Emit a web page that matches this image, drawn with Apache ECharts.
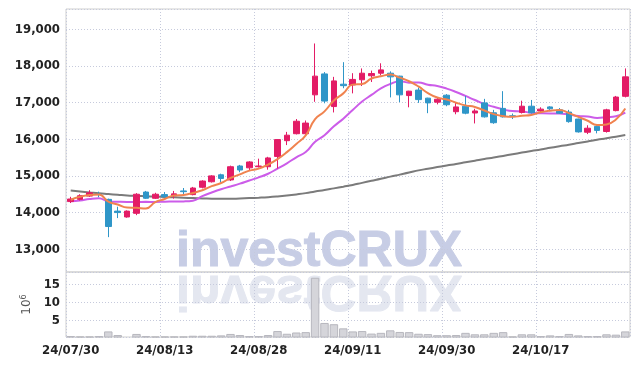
<!DOCTYPE html>
<html>
<head>
<meta charset="utf-8">
<script src="https://cdn.jsdelivr.net/npm/echarts@6/dist/echarts.min.js"></script>
<style>html,body{margin:0;padding:0;background:#fff}#c{width:639px;height:366px}</style>
</head>
<body>
<div id="c"></div>
<script>
const dates = ['24/07/30','24/07/31','24/08/01','24/08/02','24/08/05','24/08/06','24/08/07','24/08/08','24/08/09','24/08/12',
'24/08/13','24/08/14','24/08/16','24/08/19','24/08/20','24/08/21','24/08/22','24/08/23','24/08/26','24/08/27',
'24/08/28','24/08/29','24/08/30','24/09/02','24/09/03','24/09/04','24/09/05','24/09/06','24/09/09','24/09/10',
'24/09/11','24/09/12','24/09/13','24/09/19','24/09/20','24/09/23','24/09/24','24/09/25','24/09/26','24/09/27',
'24/09/30','24/10/02','24/10/04','24/10/07','24/10/08','24/10/10','24/10/11','24/10/14','24/10/15','24/10/16',
'24/10/17','24/10/18','24/10/21','24/10/22','24/10/23','24/10/24','24/10/25','24/10/28','24/10/29','24/10/30'];

const openP  = [14300,14360,14450,14500,14360,14040,13880,13980,14560,14390,
14490,14460,14590,14490,14690,14840,15030,14890,15270,15220,
15250,15250,15530,15960,16150,16150,17210,17780,16890,17500,
17480,17620,17730,17800,17800,17720,17190,17340,17120,17010,
17200,16750,16900,16715,16990,16720,16840,16640,16730,16900,
16770,16880,16800,16740,16550,16190,16350,16210,16780,17170];
const closeP = [14370,14460,14540,14490,13620,14000,14040,14500,14390,14500,
14430,14510,14570,14670,14860,15000,14930,15250,15160,15380,
15270,15490,15990,16110,16490,16440,17720,17040,17590,17460,
17630,17800,17790,17890,17700,17210,17310,17080,16990,17090,
16940,16880,16710,16770,16610,16450,16610,16615,16900,16720,
16820,16830,16710,16480,16200,16300,16240,16800,17150,17700];
const lowP   = [14260,14330,14430,14420,13330,13850,13860,13930,14370,14370,
14370,14380,14490,14470,14660,14820,14820,14860,15100,15130,
15230,15170,15200,15840,16130,16100,17020,16980,16730,17390,
17250,17450,17560,17740,17140,17010,16870,16990,16710,16950,
16900,16680,16680,16430,16590,16420,16590,16550,16700,16700,
16720,16760,16690,16450,16180,16140,16160,16180,16760,17140];
const highP  = [14430,14500,14610,14570,14380,14160,14060,14530,14590,14540,
14560,14590,14670,14700,14880,15020,15060,15280,15300,15400,
15470,15520,16000,16200,16550,16510,18610,17830,17700,18100,
17800,17930,17870,18070,17850,17730,17320,17410,17130,17150,
17230,17000,17180,16830,17100,16800,17310,16700,17050,17070,
16870,16900,16850,16800,16560,16380,16380,16830,17180,17930];

const ma5  = [14350,14430,14480,14490,14296,14222,14138,14130,14110,14286,
14372,14466,14480,14536,14608,14722,14806,14942,15040,15144,
15198,15310,15458,15648,15870,16104,16550,16760,17056,17250,
17488,17504,17654,17714,17762,17678,17580,17438,17258,17136,
17082,16996,16922,16878,16782,16684,16630,16611,16637,16659,
16733,16777,16796,16712,16608,16504,16386,16404,16538,16838];
const ma10 = [14308,14330,14370,14390,14305,14295,14290,14290,14292,14291,
14297,14302,14305,14323,14447,14547,14636,14711,14788,14876,
14960,15058,15200,15344,15507,15651,15930,16109,16352,16560,
16796,17027,17207,17385,17506,17583,17542,17546,17486,17449,
17380,17288,17180,17068,16959,16883,16813,16766,16757,16720,
16708,16703,16703,16674,16633,16618,16581,16600,16625,16723];
const ma60 = [14600,14575,14550,14525,14505,14485,14465,14455,14445,14435,
14425,14415,14405,14395,14385,14378,14374,14375,14385,14395,
14406,14420,14440,14465,14495,14530,14575,14615,14660,14705,
14752,14810,14865,14920,14980,15035,15090,15150,15195,15240,
15285,15325,15370,15415,15460,15500,15545,15590,15635,15680,
15720,15765,15810,15850,15895,15940,15985,16025,16070,16115];

const volume = [0.7,0.6,0.6,0.7,2.0,1.0,0.5,1.3,0.7,0.6,
0.6,0.6,0.6,0.8,0.8,0.8,0.9,1.3,1.0,0.7,
0.7,1.0,2.1,1.35,1.7,1.8,16.9,4.35,4.0,2.85,
2.0,2.1,1.4,1.6,2.3,1.85,1.8,1.35,1.25,0.95,
0.95,1.0,1.6,1.2,1.2,1.6,1.8,0.6,1.2,1.2,
0.7,0.9,0.7,1.3,0.9,0.7,0.7,1.2,1.1,2.0];

const candleData = dates.map((d, i) => [openP[i], closeP[i], lowP[i], highP[i]]);

const UP = '#e31c66', DOWN = '#2f96c8';
const gridLine = { show: true, lineStyle: { color: '#c6cadc', width: 1, type: [1, 2] } };
const labelFont = { fontFamily: '"DejaVu Sans Condensed", "Liberation Sans Narrow", "Roboto Condensed", sans-serif', fontWeight: 'bold', color: '#222' };

const chart = echarts.init(document.getElementById('c'), null, { renderer: 'canvas' });
chart.setOption({
  animation: false,
  backgroundColor: '#fff',
  graphic: [
    { type: 'text', x: 176, y: 271, z: -10, silent: true,
      style: { text: 'investCRUX', x: 0, y: -19, verticalAlign: 'middle', font: 'bold 50px "Liberation Sans"', fill: '#c7cde5', stroke: '#c7cde5', lineWidth: 1 } },
    { type: 'text', x: 176, y: 271, scaleY: -1, z: -10, silent: true,
      style: { text: 'investCRUX', x: 0, y: -19, verticalAlign: 'middle', font: 'bold 50px "Liberation Sans"', fill: '#e4e7f0', stroke: '#e4e7f0', lineWidth: 1 } }
  ],
  grid: [
    { left: 66, right: 9, top: 9, height: 263, show: true, borderColor: '#cfcfcf', borderWidth: 1 },
    { left: 66, right: 9, top: 272, height: 65, show: true, borderColor: '#cfcfcf', borderWidth: 1 }
  ],
  xAxis: [
    { type: 'category', gridIndex: 0, data: dates, axisLine: { show: false }, axisTick: { show: false },
      axisLabel: { show: false }, splitLine: Object.assign({ interval: 9 }, gridLine) },
    { type: 'category', gridIndex: 1, data: dates, axisLine: { show: false }, axisTick: { show: false },
      axisLabel: Object.assign({ interval: 9, fontSize: 13, margin: 7 }, labelFont),
      splitLine: Object.assign({ interval: 9 }, gridLine) }
  ],
  yAxis: [
    { type: 'value', gridIndex: 0, min: 12380, max: 19550, splitNumber: 5,
      axisLine: { show: false }, axisTick: { show: false },
      axisLabel: Object.assign({ fontSize: 13, margin: 6, showMinLabel: false, showMaxLabel: false,
        formatter: v => Math.round(v).toLocaleString('en-US') }, labelFont),
      splitLine: gridLine },
    { type: 'value', gridIndex: 1, min: 0.45, max: 18.5, splitNumber: 3,
      axisLine: { show: false }, axisTick: { show: false },
      axisLabel: Object.assign({ fontSize: 13, margin: 6, showMinLabel: false, showMaxLabel: false,
        formatter: v => String(Math.round(v)) }, labelFont),
      splitLine: gridLine,
      name: '10{s|6}', nameLocation: 'middle', nameRotate: 90, nameGap: 30,
      nameTextStyle: { fontFamily: 'DejaVu Sans', fontSize: 12, color: '#555',
        rich: { s: { fontFamily: 'DejaVu Sans', fontSize: 8, color: '#555', verticalAlign: 'top', padding: [0,0,6,0] } } } }
  ],
  series: [
    { type: 'candlestick', xAxisIndex: 0, yAxisIndex: 0, data: candleData, barWidth: 6, z: 3,
      itemStyle: { color: UP, color0: DOWN, borderColor: UP, borderColor0: DOWN, borderWidth: 1 } },
    { type: 'line', xAxisIndex: 0, yAxisIndex: 0, data: ma60, smooth: true, showSymbol: false, z: 2,
      lineStyle: { color: '#7b7b7b', width: 2 } },
    { type: 'line', xAxisIndex: 0, yAxisIndex: 0, data: ma10, smooth: true, showSymbol: false, z: 2,
      lineStyle: { color: '#cc5ce9', width: 2 } },
    { type: 'line', xAxisIndex: 0, yAxisIndex: 0, data: ma5, smooth: true, showSymbol: false, z: 4,
      lineStyle: { color: '#f0834f', width: 2 } },
    { type: 'bar', xAxisIndex: 1, yAxisIndex: 1, data: volume, barWidth: '90%',
      itemStyle: { color: '#d5d5da', borderColor: '#b7b7be', borderWidth: 1 } }
  ]
});
</script>
</body>
</html>
